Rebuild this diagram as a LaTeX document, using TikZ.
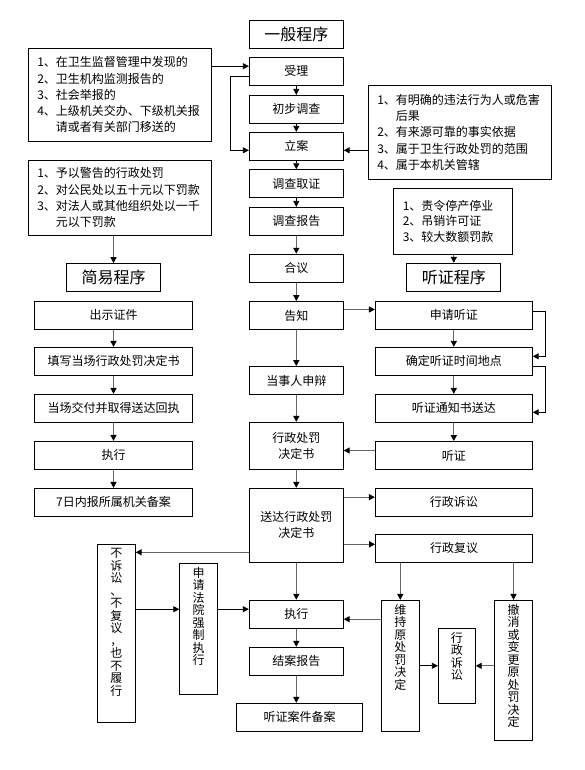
\documentclass[tikz,border=0pt]{standalone}
\usepackage{fontspec}
\setmainfont{Noto Sans CJK SC}
\usepackage{tikz}
\usetikzlibrary{arrows.meta}

\newcommand{\vstack}[2]{\parbox[c][#1][t]{14pt}{\centering\fontsize{12}{12.5}\selectfont #2}}
\newcommand{\gap}{\phantom{1、}}

\begin{document}
\begin{tikzpicture}[x=1pt, y=-1pt,
  every node/.style={font=\fontsize{12}{16}\selectfont},
  box/.style={draw, line width=0.8pt, inner sep=0pt, minimum height=28pt, align=center},
  mainbox/.style={box, minimum width=94pt},
  easybox/.style={box, minimum width=158pt},
  hearbox/.style={box, minimum width=157pt},
  titlebox/.style={box, minimum width=94pt, font=\fontsize{16}{18}\selectfont},
  listbox/.style={draw, line width=0.8pt, inner xsep=9pt, inner ysep=0pt, align=left,
                  font=\fontsize{12}{16.3}\selectfont},
  vertbox/.style={draw, line width=0.8pt, inner xsep=0pt, inner ysep=4pt, minimum width=38pt},
  link/.style={line width=0.8pt, -{Triangle[length=6pt, width=6pt]}},
  flow/.style={line width=1.3pt, draw=black!60, -{Triangle[length=6pt, width=6pt, color=black]}}]
\useasboundingbox (0,0) rectangle (584,770);
%
\node[titlebox] (general) at (296.3,34.5) {一般程序};
\node[mainbox] (shouli) at (296.3,71.2) {受理};
\node[mainbox] (chubu) at (296.3,109.3) {初步调查};
\node[mainbox] (lian) at (296.3,146.3) {立案};
\node[mainbox] (quzheng) at (296.3,183.7) {调查取证};
\node[mainbox] (baogao) at (296.3,221.3) {调查报告};
\node[mainbox] (heyi) at (296.3,268.2) {合议};
\node[mainbox] (gaozhi) at (296.3,315.5) {告知};
\node[mainbox] (shenbian) at (296.3,380.5) {当事人申辩};
\node[mainbox, minimum height=47pt] (jueding) at (296.3,445.8) {行政处罚\\决定书};
\node[mainbox, minimum height=74pt] (songda) at (296.3,525.3) {送达行政处罚\\决定书};
\node[mainbox] (zhixing) at (296.3,614.2) {执行};
\node[mainbox] (jiean) at (296.3,661.3) {结案报告};
\node[mainbox, minimum width=126pt] (beian) at (299.5,717.3) {听证案件备案};
%
\node[listbox, text width=165pt, minimum height=93pt] (source) at (119.8,94.8)
  {1、在卫生监督管理中发现的\\2、卫生机构监测报告的\\3、社会举报的\\
   4、上级机关交办、下级机关报\\\gap 请或者有关部门移送的};
\node[listbox, text width=165pt, minimum height=75pt] (easycase) at (119.8,197.8)
  {1、予以警告的行政处罚\\2、对公民处以五十元以下罚款\\
   3、对法人或其他组织处以一千\\\gap 元以下罚款};
\node[titlebox] (easy) at (113.5,277.5) {简易程序};
\node[easybox] (show) at (113.5,315.3) {出示证件};
\node[easybox] (fill) at (113.5,361.3) {填写当场行政处罚决定书};
\node[easybox] (hand) at (113.5,408.3) {当场交付并取得送达回执};
\node[easybox] (run) at (113.5,455.3) {执行};
\node[easybox] (report) at (113.5,502.3) {7日内报所属机关备案};
%
\node[listbox, text width=165pt, minimum height=94pt] (terms) at (459.8,132.3)
  {1、有明确的违法行为人或危害\\\gap 后果\\2、有来源可靠的事实依据\\
   3、属于卫生行政处罚的范围\\4、属于本机关管辖};
\node[listbox, text width=101pt, minimum height=66pt, font=\fontsize{12}{15.5}\selectfont]
  (hearcase) at (453.3,221.2) {1、责令停产停业\\2、吊销许可证\\3、较大数额罚款};
\node[titlebox] (hear) at (453.8,277.3) {听证程序};
\node[hearbox] (apply) at (453.8,315.3) {申请听证};
\node[hearbox] (fix) at (453.8,361.3) {确定听证时间地点};
\node[hearbox] (notice) at (453.8,408.3) {听证通知书送达};
\node[hearbox] (hearing) at (453.8,455.5) {听证};
\node[hearbox] (suit) at (453.8,502.2) {行政诉讼};
\node[hearbox] (review) at (454,548.3) {行政复议};
%
\node[vertbox] (idle) at (116.3,633.3)
  {\vstack{170pt}{不\\诉\\讼\\、\\不\\复\\议\\，\\也\\不\\履\\行}};
\node[vertbox] (court) at (198.7,628.8) {\vstack{123pt}{申\\请\\法\\院\\强\\制\\执\\行}};
\node[vertbox] (keep) at (400.3,665.8) {\vstack{123pt}{维\\持\\原\\处\\罚\\决\\定}};
\node[vertbox, minimum width=37pt] (suit2) at (456.8,665.8) {\vstack{67pt}{行\\政\\诉\\讼}};
\node[vertbox] (change) at (513.5,670.3)
  {\vstack{132pt}{撤\\消\\或\\变\\更\\原\\处\\罚\\决\\定}};
%
\draw[link] ([yshift=5pt]shouli.west -| source.east) -- ([yshift=5pt]shouli.west);
\draw[link] ([yshift=-5pt]shouli.west) -- ++(-19,0) |- ([yshift=-4pt]lian.west);
\draw[link] ([yshift=-4pt]lian.east -| terms.west) -- ([yshift=-4pt]lian.east);
\foreach \a/\b in {shouli/chubu, chubu/lian, lian/quzheng, quzheng/baogao}
  \draw[link] (\a.south) -- (\b.north);
\foreach \a/\b in {baogao/heyi, heyi/gaozhi, gaozhi/shenbian, shenbian/jueding,
                   jueding/songda, songda/zhixing, zhixing/jiean,
                   show/fill, fill/hand, hand/run, run/report,
                   apply/fix, fix/notice, notice/hearing}
  \draw[flow] (\a.south) -- (\b.north);
\draw[flow] (jiean.south) -- (jiean.south |- beian.north);
\draw[flow] (easy.north |- easycase.south) -- (easy.north);
\draw[flow] (hear.north |- hearcase.south) -- (hear.north);
%
\draw[flow] ([yshift=6pt]gaozhi.east) -- ([yshift=6pt]gaozhi.east -| apply.west);
\draw[link] ([yshift=4pt]apply.east) -- ++(13,0) |- ([yshift=5pt]fix.east);
\draw[link] ([yshift=-5pt]fix.east) -- ++(13,0) |- ([yshift=-4pt]notice.east);
\draw[flow] ([yshift=5pt]hearing.west) -- ([yshift=5pt]hearing.west -| jueding.east);
\draw[flow] ([yshift=5pt]suit.west -| songda.east) -- ([yshift=5pt]suit.west);
\draw[flow] ([yshift=4pt]review.west -| songda.east) -- ([yshift=4pt]review.west);
\draw[flow] ([yshift=-27pt]songda.west) -- ([yshift=-27pt]songda.west -| idle.east);
%
\coordinate (enter) at ([yshift=5pt]zhixing.west);
\draw[link] (idle.east |- enter) -- (court.west |- enter);
\draw[link] (court.east |- enter) -- (enter);
\draw[flow] ([yshift=-5pt]zhixing.east -| keep.west) -- ([yshift=-5pt]zhixing.east);
\draw[flow] (keep.north |- review.south) -- (keep.north);
\draw[flow] (change.north |- review.south) -- (change.north);
\draw[link] (keep.east |- suit2.west) -- (suit2.west);
\draw[flow] (change.west |- suit2.east) -- (suit2.east);
\end{tikzpicture}
\end{document}
